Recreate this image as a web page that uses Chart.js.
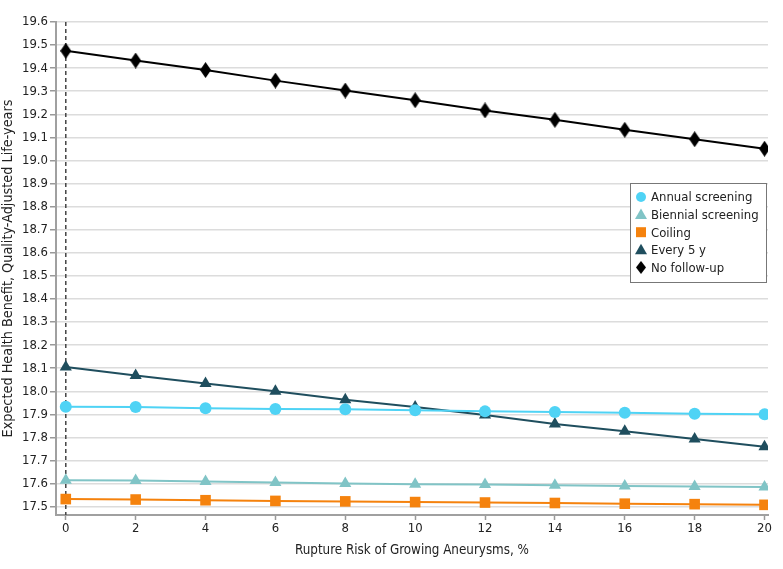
<!DOCTYPE html>
<html>
<head>
<meta charset="utf-8">
<script src="https://cdn.jsdelivr.net/npm/chart.js@4.4.0/dist/chart.umd.min.js"></script>
<style>
  body { margin: 0; background: #fff; }
  #contenedor { width: 783px; height: 569px; }
</style>
</head>
<body>
<div id="contenedor"><canvas id="grafico"></canvas></div>
<script>
// valores
const riesgos = [0, 2, 4, 6, 8, 10, 12, 14, 16, 18, 20];
const anual = [17.933, 17.932, 17.927, 17.923, 17.922, 17.918, 17.913, 17.910, 17.907, 17.903, 17.900];
const bienal = [17.615, 17.613, 17.609, 17.605, 17.601, 17.597, 17.596, 17.593, 17.590, 17.588, 17.585];
const coiling = [17.533, 17.531, 17.528, 17.525, 17.523, 17.520, 17.518, 17.516, 17.513, 17.511, 17.508];
const cada5 = [18.105, 18.068, 18.034, 18.000, 17.963, 17.932, 17.897, 17.858, 17.827, 17.793, 17.760];
const sinSeguimiento = [19.475, 19.433, 19.392, 19.346, 19.303, 19.261, 19.217, 19.176, 19.133, 19.092, 19.051];

const ticksX = [0, 2, 4, 6, 8, 10, 12, 14, 16, 18, 20];
const ticksY = [17.5, 17.6, 17.7, 17.8, 17.9, 18.0, 18.1, 18.2, 18.3, 18.4, 18.5, 18.6, 18.7, 18.8, 18.9, 19.0, 19.1, 19.2, 19.3, 19.4, 19.5, 19.6];

const fuente = "'DejaVu Sans Condensed', Lato, sans-serif";

function crearDiamante(ancho, alto, color) {
    const c = document.createElement("canvas");
    c.width = ancho;
    c.height = alto;
    const g = c.getContext("2d");
    g.fillStyle = color;
    g.beginPath();
    g.moveTo(ancho / 2, 0);
    g.lineTo(ancho, alto / 2);
    g.lineTo(ancho / 2, alto);
    g.lineTo(0, alto / 2);
    g.closePath();
    g.fill();
    return c;
}

const diamante = crearDiamante(11, 16, "#000");
const diamanteChico = crearDiamante(10, 13, "#000");

function serie(etiqueta, valores, color, estilo, radio) {
    return {
        label: etiqueta,
        data: riesgos.map((r, i) => ({ x: r, y: valores[i] })),
        borderColor: color,
        backgroundColor: color,
        pointBackgroundColor: color,
        pointBorderWidth: 0,
        pointStyle: estilo,
        pointRadius: radio,
        pointHoverRadius: radio,
        borderWidth: 2,
        tension: 0,
        fill: false
    };
}

const lineaCero = {
    id: "lineaCero",
    beforeDatasetsDraw(chart) {
        const { ctx, chartArea, scales } = chart;
        const x = scales.x.getPixelForValue(0);
        ctx.save();
        ctx.strokeStyle = "#444";
        ctx.lineWidth = 1.5;
        ctx.setLineDash([4, 3]);
        ctx.beginPath();
        ctx.moveTo(x, chartArea.top);
        ctx.lineTo(x, chartArea.bottom);
        ctx.stroke();
        ctx.restore();
    }
};

function dibujarMarcador(ctx, ds, x, y) {
    ctx.fillStyle = ds.backgroundColor;
    ctx.beginPath();
    if (ds.pointStyle === "circle") {
        ctx.arc(x, y, 5, 0, Math.PI * 2);
        ctx.fill();
    } else if (ds.pointStyle === "triangle") {
        ctx.moveTo(x, y - 6);
        ctx.lineTo(x + 6, y + 4.5);
        ctx.lineTo(x - 6, y + 4.5);
        ctx.closePath();
        ctx.fill();
    } else if (ds.pointStyle === "rect") {
        ctx.rect(x - 5, y - 5, 10, 10);
        ctx.fill();
    } else {
        ctx.drawImage(diamanteChico, x - 5, y - 6.5);
    }
}

const leyenda = {
    id: "leyenda",
    afterDraw(chart) {
        const { ctx, chartArea } = chart;
        const ancho = 136, alto = 99;
        const x0 = chartArea.right - ancho - 2;
        const y0 = 183;
        ctx.save();
        ctx.fillStyle = "#fff";
        ctx.fillRect(x0, y0, ancho, alto);
        ctx.strokeStyle = "#777";
        ctx.lineWidth = 1;
        ctx.strokeRect(x0 + 0.5, y0 + 0.5, ancho, alto);
        ctx.font = "13px " + fuente;
        ctx.textBaseline = "middle";
        chart.data.datasets.forEach((ds, i) => {
            const y = y0 + 14 + i * 17.6;
            dibujarMarcador(ctx, ds, x0 + 11, y);
            ctx.fillStyle = "#222";
            ctx.fillText(ds.label, x0 + 21, y + 1);
        });
        ctx.restore();
    }
};

const ctx = document.getElementById("grafico").getContext("2d");

new Chart(ctx, {
    type: "line",
    data: {
        datasets: [
            serie("Annual screening", anual, "#4fd3f5", "circle", 6),
            serie("Biennial screening", bienal, "#80c4c6", "triangle", 7),
            serie("Coiling", coiling, "#f5820d", "rect", 7.5),
            serie("Every 5 y", cada5, "#1f4e5e", "triangle", 7),
            serie("No follow-up", sinSeguimiento, "#000000", diamante, 8)
        ]
    },
    options: {
        responsive: true,
        maintainAspectRatio: false,
        animation: false,
        layout: { padding: { top: 22, right: 15, left: 0, bottom: 0 } },
        plugins: {
            legend: { display: false },
            tooltip: { enabled: false }
        },
        scales: {
            x: {
                type: "linear",
                min: -0.28,
                max: 20.1,
                afterBuildTicks: (escala) => { escala.ticks = ticksX.map(v => ({ value: v })); },
                afterFit: (escala) => { escala.height = 54; },
                ticks: {
                    color: "#222",
                    font: { family: fuente, size: 13 },
                    padding: 1,
                    maxRotation: 0
                },
                grid: {
                    drawOnChartArea: false,
                    drawTicks: true,
                    tickLength: 5,
                    tickColor: "#999",
                    tickWidth: 1.5
                },
                border: { color: "#a0a0a0", width: 2 },
                title: {
                    display: true,
                    text: "Rupture Risk of Growing Aneurysms, %",
                    color: "#222",
                    font: { family: fuente, size: 13.3 },
                    padding: { top: 10, bottom: 10 }
                }
            },
            y: {
                type: "linear",
                min: 17.464,
                max: 19.6,
                afterBuildTicks: (escala) => { escala.ticks = ticksY.map(v => ({ value: v })); },
                afterFit: (escala) => { escala.width = 56; },
                ticks: {
                    color: "#222",
                    font: { family: fuente, size: 13 },
                    padding: 2,
                    callback: (v) => v.toFixed(1)
                },
                grid: {
                    color: "#dcdcdc",
                    lineWidth: 1.5,
                    drawTicks: true,
                    tickLength: 6,
                    tickColor: "#999",
                    tickWidth: 1.5
                },
                border: { color: "#a0a0a0", width: 2 },
                title: {
                    display: true,
                    text: "Expected Health Benefit, Quality-Adjusted Life-years",
                    color: "#222",
                    font: { family: fuente, size: 14.3 },
                    padding: { top: 0, bottom: 0 }
                }
            }
        }
    },
    plugins: [lineaCero, leyenda]
});
</script>
</body>
</html>
